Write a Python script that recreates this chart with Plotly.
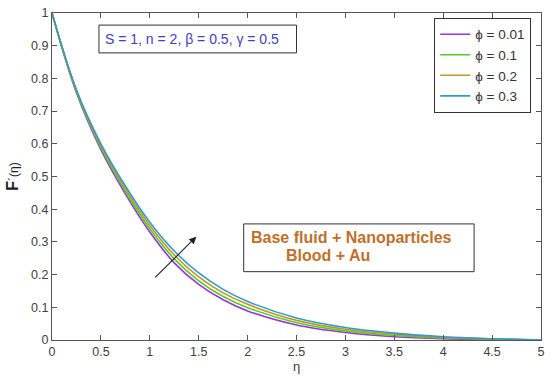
import plotly.graph_objects as go

eta = [0, 0.25, 0.5, 0.75, 1.0, 1.25, 1.5, 1.75, 2.0, 2.5, 3.0, 3.5, 4.0, 4.5, 5.0]
f_phi001 = [1, 0.756, 0.582, 0.447, 0.330, 0.236, 0.170, 0.123, 0.089, 0.046, 0.023, 0.010, 0.004, 0.0015, 0.0]
f_phi01 = [1, 0.759, 0.588, 0.455, 0.340, 0.248, 0.181, 0.133, 0.099, 0.053, 0.028, 0.014, 0.006, 0.002, 0.0]
f_phi02 = [1, 0.762, 0.594, 0.463, 0.350, 0.260, 0.193, 0.144, 0.109, 0.060, 0.033, 0.018, 0.008, 0.003, 0.0]
f_phi03 = [1, 0.765, 0.600, 0.471, 0.360, 0.272, 0.205, 0.155, 0.118, 0.067, 0.038, 0.021, 0.010, 0.004, 0.0]

series_names = ["\u03d5 = 0.01", "\u03d5 = 0.1", "\u03d5 = 0.2", "\u03d5 = 0.3"]
series_values = [f_phi001, f_phi01, f_phi02, f_phi03]
series_colors = ["#9933dd", "#55cc22", "#bb9922", "#3399cc"]

x_ticks = [0, 0.5, 1, 1.5, 2, 2.5, 3, 3.5, 4, 4.5, 5]
x_ticklabels = ["0", "0.5", "1", "1.5", "2", "2.5", "3", "3.5", "4", "4.5", "5"]
y_ticks = [0, 0.1, 0.2, 0.3, 0.4, 0.5, 0.6, 0.7, 0.8, 0.9, 1]
y_ticklabels = ["0", "0.1", "0.2", "0.3", "0.4", "0.5", "0.6", "0.7", "0.8", "0.9", "1"]

FONT = "Arial, Liberation Sans, sans-serif"

fig = go.Figure()
for name, vals, col in zip(series_names, series_values, series_colors):
    fig.add_trace(go.Scatter(x=eta, y=vals, mode="lines", name=name,
                             line=dict(color=col, width=1.6, shape="spline", smoothing=1.0)))

axis_common = dict(showgrid=False, zeroline=False, showline=True, linecolor="#555555",
                   linewidth=1, mirror="ticks", ticks="inside", ticklen=5, automargin=False,
                   tickcolor="#555555", tickfont=dict(family=FONT, size=12.5, color="#404040"))

fig.update_xaxes(range=[0, 5], tickvals=x_ticks, ticktext=x_ticklabels,
                 ticklabeloverflow="allow",
                 title=dict(text="\u03b7", font=dict(family=FONT, size=13, color="#404040"), standoff=0),
                 **axis_common)
fig.update_yaxes(range=[0, 1], tickvals=y_ticks, ticktext=y_ticklabels,
                 ticklabeloverflow="allow",
                 title=dict(text="<b>F</b><span style='font-size:12px'>\u00b4(\u03b7)</span>",
                            font=dict(family=FONT, size=16, color="#202020"), standoff=8),
                 **axis_common)

# parameter box
fig.add_shape(type="rect", xref="x", yref="y", x0=0.48, x1=2.5, y0=0.878, y1=0.963,
              line=dict(color="#333333", width=1), fillcolor="white")
fig.add_annotation(x=1.43, y=0.9205, xref="x", yref="y", showarrow=False,
                   text="S = 1, n = 2, \u03b2 = 0.5, \u03b3 = 0.5",
                   font=dict(family=FONT, size=14, color="#4040c0"))

# base fluid box
fig.add_shape(type="rect", xref="x", yref="y", x0=1.96, x1=4.316, y0=0.209, y1=0.355,
              line=dict(color="#333333", width=1), fillcolor="white")
fig.add_annotation(x=3.06, y=0.313, xref="x", yref="y", showarrow=False,
                   text="<b>Base fluid + Nanoparticles</b>",
                   font=dict(family=FONT, size=16, color="#c0702a"))
fig.add_annotation(x=2.82, y=0.257, xref="x", yref="y", showarrow=False,
                   text="<b>Blood + Au</b>",
                   font=dict(family=FONT, size=16, color="#c0702a"))

# arrow
fig.add_annotation(x=1.476, y=0.316, ax=1.04, ay=0.187, xref="x", yref="y",
                   axref="x", ayref="y", showarrow=True, text="",
                   arrowhead=2, arrowsize=1.3, arrowwidth=1.1, arrowcolor="#222222")

fig.update_layout(
    width=550, height=385,
    margin=dict(l=52, r=9, t=13, b=45),
    paper_bgcolor="white", plot_bgcolor="white",
    font=dict(family=FONT, size=12, color="#404040"),
    legend=dict(x=0.98, y=0.985, xanchor="right", yanchor="top",
                bordercolor="#333333", borderwidth=1, bgcolor="white",
                font=dict(family=FONT, size=13.5, color="#333333"),
                tracegroupgap=0, itemwidth=30),
    showlegend=True,
)

fig.write_html("out.html", config={"displayModeBar": False},
               post_script="document.body.style.margin='0';document.body.style.overflow='hidden';")
